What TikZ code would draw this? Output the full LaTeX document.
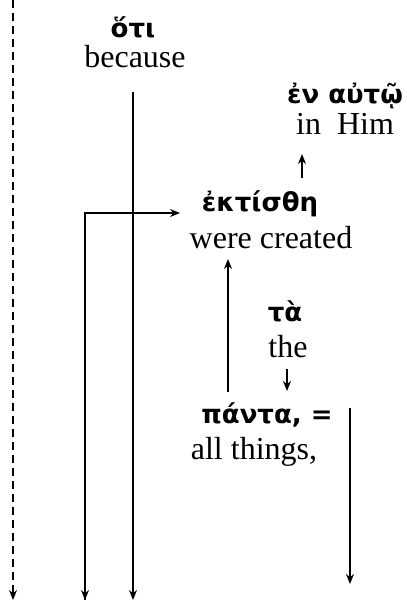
\documentclass[tikz,border=0pt]{standalone}
\usepackage{fontspec}
\setmainfont{Liberation Serif}
\newfontfamily\grk{DejaVu Sans}
\usetikzlibrary{arrows.meta}
\tikzset{
  grword/.style  = {font=\grk\bfseries\fontsize{26}{28}\selectfont,inner sep=0pt},
  enword/.style  = {font=\fontsize{32}{34}\selectfont,inner sep=0pt},
  flow/.style    = {-{Stealth[length=10pt,width=8pt]},line width=1.6pt},
  dashflow/.style= {flow,dash pattern=on 8pt off 5pt}
}
\begin{document}
\begin{tikzpicture}[x=1pt,y=-1pt]
  \useasboundingbox (0,0) rectangle (407,600);
  % words
  \node[grword] (hoti)     at (133,27)  {ὅτι};
  \node[enword] (because)  at (135,57)  {because};
  \node[grword] (enauto)   at (345,96)  {ἐν αὐτῷ};
  \node[enword] (inhim)    at (345,124) {in\enspace Him};
  \node[grword] (ektisthe) at (260,204) {ἐκτίσθη};
  \node[enword] (created)  at (271,238) {were created};
  \node[grword] (ta)       at (285,311) {τὰ};
  \node[enword] (the)      at (288,347) {the};
  \node[grword] (panta)    at (267,415) {πάντα, =};
  \node[enword] (things)   at (254,452) {all things,};
  % connector ends
  \coordinate (dashtop) at (13,0);
  \coordinate (dashend) at (13,600);
  \coordinate (hotitop) at (133,92);
  \coordinate (hotiend) at (133,600);
  \coordinate (bendend) at (85,600);
  \coordinate (bend)    at (85,213);
  \coordinate (ektin)   at (180,213);
  \coordinate (upfrom)  at (302,178);
  \coordinate (upto)    at (302,154);
  \coordinate (pantaup) at (228,392);
  \coordinate (createdlow) at (228,259);
  \coordinate (thefrom) at (287,369);
  \coordinate (theto)   at (287,391);
  \coordinate (eqfrom)  at (350,408);
  \coordinate (eqto)    at (350,584);
  % connectors
  \draw[dashflow] (dashtop) -- (dashend);
  \draw[flow] (hotitop) -- (hotiend);
  \draw[flow] (bendend) -- (bend) -- (ektin);
  \draw[flow] (bend) -- (bendend);
  \draw[flow] (upfrom) -- (upto);
  \draw[flow] (pantaup) -- (createdlow);
  \draw[flow] (thefrom) -- (theto);
  \draw[flow] (eqfrom) -- (eqto);
\end{tikzpicture}
\end{document}
